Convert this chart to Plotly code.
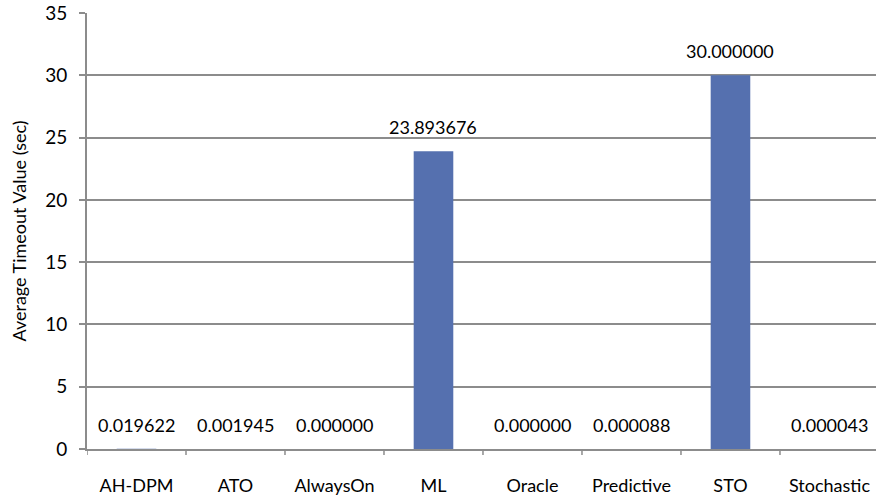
import plotly.graph_objects as go

categories = ["AH-DPM", "ATO", "AlwaysOn", "ML", "Oracle", "Predictive", "STO", "Stochastic"]
timeouts = [0.019622, 0.001945, 0.000000, 23.893676, 0.000000, 0.000088, 30.000000, 0.000043]
labels = [f"{v:.6f}" for v in timeouts]
y_ticks = [0, 5, 10, 15, 20, 25, 30, 35]

FONT = "Lato"
BAR = "rgba(85,112,175,0.999)"
GRID = "#8C8C8C"

fig = go.Figure()
fig.add_trace(go.Bar(
    x=list(range(len(categories))),
    y=timeouts,
    width=0.4,
    # near-opaque fill makes plotly use plain pixel rounding,
    # so sub-pixel bars are not inflated to a visible 1px sliver
    marker=dict(color=BAR, line=dict(width=0)),
    hoverinfo="skip",
))

for i, (v, t) in enumerate(zip(timeouts, labels)):
    fig.add_annotation(
        x=i, y=v, text=t, showarrow=False,
        xanchor="center", yanchor="bottom", yshift=11,
        font=dict(family=FONT, size=18, color="#000000"),
    )

fig.update_layout(
    width=876, height=498,
    margin=dict(l=87, r=0, t=13, b=49),
    plot_bgcolor="white", paper_bgcolor="white",
    showlegend=False,
    font=dict(family=FONT, size=18, color="#000000"),
)
fig.update_xaxes(
    range=[-0.5, 7.47],
    tickmode="array",
    tickvals=list(range(len(categories))),
    ticktext=categories,
    showgrid=False,
    showline=True, linecolor=GRID, linewidth=2,
    ticks="", ticklabelstandoff=19,
    tickfont=dict(family=FONT, size=18),
    zeroline=False,
)
# category boundary ticks below the x axis
for k in range(len(categories)):
    fig.add_shape(
        type="line", xref="x", yref="paper",
        x0=k - 0.5, x1=k - 0.5, y0=0, y1=-0.014,
        line=dict(color=GRID, width=1.5),
    )
fig.update_yaxes(
    range=[0, 35],
    tickmode="array", tickvals=y_ticks,
    showgrid=True, gridcolor=GRID, gridwidth=1.5,
    showline=True, linecolor=GRID, linewidth=2,
    ticks="outside", ticklen=6, tickcolor=GRID, tickwidth=1.5,
    ticklabelstandoff=8,
    tickfont=dict(family=FONT, size=19),
    zeroline=False,
    title=dict(text="Average Timeout Value (sec)", font=dict(family=FONT, size=18), standoff=14),
)

fig.write_html("out.html")
